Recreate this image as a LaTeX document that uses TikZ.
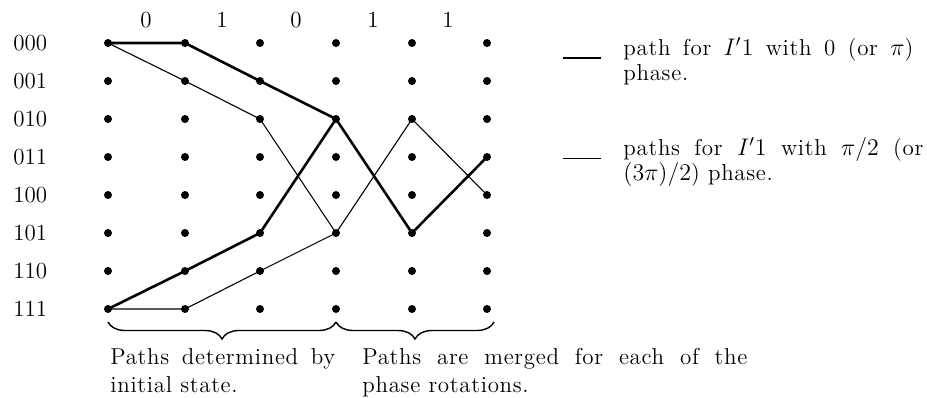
\documentclass[tikz,border=0pt]{standalone}
\usepackage{fontspec}
\setmainfont{Latin Modern Roman}
\newfontfamily\spaced{Latin Modern Roman}[LetterSpace=3]
\usetikzlibrary{decorations.pathreplacing}
\newcommand{\fitw}[2]{\makebox[#1][s]{#2}}
\begin{document}
\begin{tikzpicture}[x=0.5pt,y=-0.5pt,
  dot/.style={circle,fill=black,inner sep=0pt,minimum size=4pt},
  lbl/.style={anchor=base west,inner sep=0pt,font=\fontsize{11.5}{14}\selectfont},
  txt/.style={anchor=base west,inner sep=0pt,font=\fontsize{11.5}{14}\selectfont\spaced},
  thickp/.style={line width=1.3pt,line join=round},
  thinp/.style={line width=0.55pt,line join=round},
  brc/.style={decorate,decoration={brace,mirror,amplitude=8.5pt},line width=0.7pt}]
\useasboundingbox (0,0) rectangle (927,397);
% dots
\foreach \c/\x in {0/108,1/185,2/260,3/336,4/412,5/487}
  \foreach \r/\y in {0/43,1/81,2/119,3/157,4/195,5/233,6/271,7/309}
    \node[dot] (d\c\r) at (\x,\y) {};
% row labels
\foreach \r/\y/\t in {0/50/000,1/88/001,2/126/010,3/164/011,4/202/100,5/240/101,6/278/110,7/316/111}
  \node[lbl] (r\r) at (13,\y) {\t};
% top bit labels
\foreach \i/\x/\t in {0/146/0,1/222/1,2/296/0,3/373/1,4/448/1}
  \node[lbl,anchor=base] (t\i) at (\x,27) {\t};
% thick paths (0 or pi phase)
\draw[thickp] (d00.center) -- (d10.center) -- (d21.center) -- (d32.center) -- (d45.center) -- (d53.center);
\draw[thickp] (d07.center) -- (d16.center) -- (d25.center) -- (d32.center);
% thin paths (pi/2 phase)
\draw[thinp] (d00.center) -- (d11.center) -- (d22.center) -- (d35.center) -- (d42.center) -- (d54.center);
\draw[thinp] (d07.center) -- (d17.center) -- (d26.center) -- (d35.center);
% legend
\coordinate (la) at (563,58);
\coordinate (lb) at (601,58);
\coordinate (lc) at (563,158.5);
\coordinate (ld) at (601,158.5);
\draw[thickp] (la) -- (lb);
\draw[thinp] (lc) -- (ld);
\node[txt] (l1) at (623,55) {\fitw{145pt}{path for $I'1$ with 0 (or $\pi$)}};
\node[txt] (l2) at (623,80) {phase.};
\node[txt] (l3) at (623,155) {\fitw{150pt}{paths for $I'1$ with $\pi/2$ (or}};
\node[txt] (l4) at (623,180) {$(3\pi)/2$) phase.};
% braces
\coordinate (b0) at (108,322);
\coordinate (b1) at (336,322);
\coordinate (b2) at (494,322);
\draw[brc] (b0) -- (b1);
\draw[brc] (b1) -- (b2);
% captions
\node[txt] (c1) at (110,364) {\fitw{112.5pt}{Paths determined by}};
\node[txt] (c2) at (110,392) {initial state.};
\node[txt] (c3) at (362,364) {\fitw{192.5pt}{Paths are merged for each of the}};
\node[txt] (c4) at (362,392) {phase rotations.};
\end{tikzpicture}
\end{document}
